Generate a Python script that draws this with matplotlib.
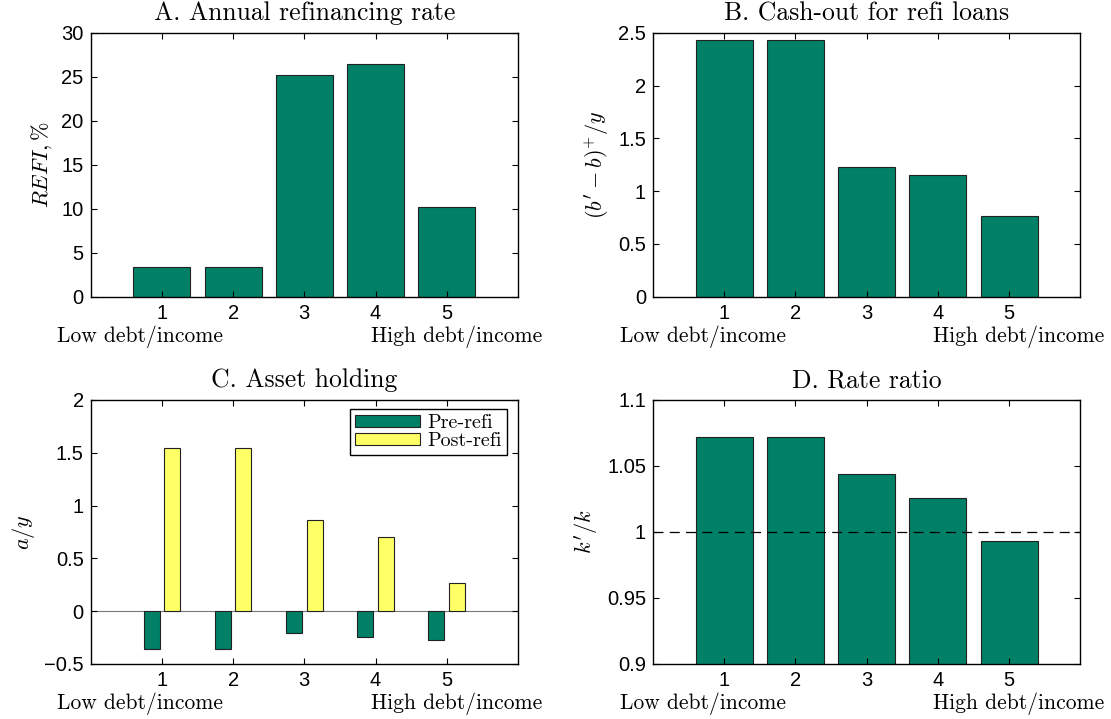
import numpy as np
import matplotlib
matplotlib.use("Agg")
from matplotlib import pyplot as plt

plt.rcParams['mathtext.fontset'] = 'cm'
plt.rcParams['font.family'] = ['Liberation Sans', 'DejaVu Sans']

groups = [1, 2, 3, 4, 5]
refi_rate = [3.35, 3.35, 25.15, 26.4, 10.15]
cash_out = [2.43, 2.43, 1.23, 1.15, 0.765]
assets_pre = [-0.355, -0.355, -0.205, -0.242, -0.275]
assets_post = [1.548, 1.548, 0.868, 0.702, 0.268]
rate_ratio = [1.072, 1.072, 1.044, 1.0255, 0.9935]

titles = ["A. Annual refinancing rate", "B. Cash-out for refi loans",
          "C. Asset holding", "D. Rate ratio"]
ylabels = [r"$REFI,\%$", r"$(b'-b)^{+}/y$", r"$a/y$", r"$k'/k$"]

green = "#008066"
yellow = "#ffff66"
serif = "cmr10"

fig = plt.figure(figsize=(11.11, 7.19), dpi=100)
left_x = [0.0816, 0.5878]
width = 0.3846
bottom_y = [0.5873, 0.0765]
height = 0.3672

axes = []
for r in range(2):
    for c in range(2):
        ax = fig.add_axes([left_x[c], bottom_y[r], width, height])
        axes.append(ax)

x = np.array(groups)

def style(ax, title, ylabel):
    ax.set_xlim(0, 6)
    ax.set_xticks(groups)
    ax.tick_params(direction='in', top=True, right=True, length=4, labelsize=14.5, pad=5)
    for s in ax.spines.values():
        s.set_linewidth(1.0)
    ax.set_title(title, fontfamily=serif, fontsize=18.5, pad=9)
    ax.set_ylabel(ylabel, fontsize=16, labelpad=5)
    tr = ax.get_xaxis_transform()
    ax.text(-0.47, -0.15, "Low debt/income", transform=tr, ha='left', va='center',
            fontfamily=serif, fontsize=15.5)
    ax.text(6.34, -0.15, "High debt/income", transform=tr, ha='right', va='center',
            fontfamily=serif, fontsize=15.5)

ax = axes[0]
ax.bar(x, refi_rate, width=0.8, color=green, edgecolor='#222222', linewidth=0.8)
ax.set_ylim(0, 30)
ax.set_yticks(range(0, 31, 5))
style(ax, titles[0], ylabels[0])

ax = axes[1]
ax.bar(x, cash_out, width=0.8, color=green, edgecolor='#222222', linewidth=0.8)
ax.set_ylim(0, 2.5)
ax.set_yticks([0, 0.5, 1, 1.5, 2, 2.5])
ax.set_yticklabels(["0", "0.5", "1", "1.5", "2", "2.5"])
style(ax, titles[1], ylabels[1])

ax = axes[2]
ax.axhline(0, color='#777777', linewidth=0.8, zorder=1)
ax.bar(x - 0.145, assets_pre, width=0.225, color=green, edgecolor='#222222',
       linewidth=0.8, label="Pre-refi", zorder=2)
ax.bar(x + 0.145, assets_post, width=0.225, color=yellow, edgecolor='#222222',
       linewidth=0.8, label="Post-refi", zorder=2)
ax.set_ylim(-0.5, 2)
ax.set_yticks([-0.5, 0, 0.5, 1, 1.5, 2])
ax.set_yticklabels(["\u22120.5", "0", "0.5", "1", "1.5", "2"])
style(ax, titles[2], ylabels[2])
leg = ax.legend(loc='upper right', bbox_to_anchor=(0.975, 0.966), fancybox=False,
                edgecolor='black', framealpha=1, prop={'family': serif, 'size': 14.5},
                handlelength=3.2, handleheight=0.55, handletextpad=0.4,
                borderpad=0.25, labelspacing=0.0, borderaxespad=0.0)
leg.get_frame().set_linewidth(1.0)

ax = axes[3]
ax.bar(x, rate_ratio, width=0.8, color=green, edgecolor='#222222', linewidth=0.8)
ax.axhline(1, color='black', linewidth=0.9, dashes=(8, 5), zorder=3)
ax.set_ylim(0.9, 1.1)
ax.set_yticks([0.9, 0.95, 1, 1.05, 1.1])
ax.set_yticklabels(["0.9", "0.95", "1", "1.05", "1.1"])
style(ax, titles[3], ylabels[3])

fig.savefig("out.png", dpi=100)
